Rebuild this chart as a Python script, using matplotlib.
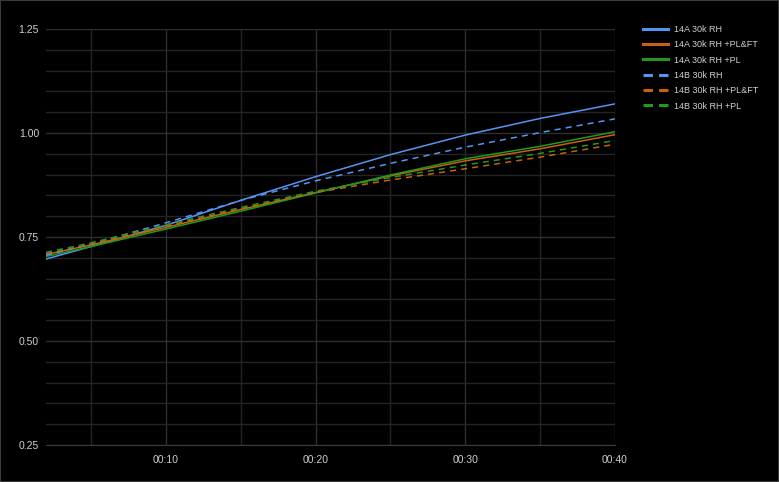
import matplotlib
matplotlib.use("Agg")
import matplotlib.pyplot as plt
from matplotlib.lines import Line2D
from matplotlib.ticker import MultipleLocator, FuncFormatter

# time in minutes
minutes = [2, 5, 10, 15, 20, 25, 30, 35, 40]

a_rh      = [0.697, 0.727, 0.778, 0.838, 0.895, 0.948, 0.995, 1.035, 1.070]
a_rh_plft = [0.708, 0.731, 0.773, 0.816, 0.857, 0.897, 0.933, 0.962, 0.996]
a_rh_pl   = [0.703, 0.727, 0.769, 0.812, 0.856, 0.899, 0.938, 0.968, 1.003]
b_rh      = [0.706, 0.733, 0.784, 0.838, 0.885, 0.927, 0.966, 1.001, 1.034]
b_rh_plft = [0.710, 0.733, 0.776, 0.818, 0.857, 0.887, 0.914, 0.942, 0.973]
b_rh_pl   = [0.713, 0.736, 0.779, 0.821, 0.860, 0.893, 0.923, 0.951, 0.982]

labels = ["14A 30k RH", "14A 30k RH +PL&FT", "14A 30k RH +PL",
          "14B 30k RH", "14B 30k RH +PL&FT", "14B 30k RH +PL"]

BLUE = "#5794F2"
ORANGE = "#C8600E"
GREEN = "#1F9A1F"

series = [
    (a_rh, BLUE, "-"), (a_rh_plft, ORANGE, "-"), (a_rh_pl, GREEN, "-"),
    (b_rh, BLUE, "--"), (b_rh_plft, ORANGE, "--"), (b_rh_pl, GREEN, "--"),
]

plt.rcParams['font.family'] = ['Liberation Sans', 'DejaVu Sans']

fig = plt.figure(figsize=(7.79, 4.82), dpi=100, facecolor="black")
ax = fig.add_axes([46/779, 37/482, (615-46)/779, (445-29)/482])
ax.set_facecolor("black")

for vals, col, ls in series:
    if ls == "--":
        ax.plot(minutes, vals, color=col, lw=1.1, ls=(0, (4, 3.3)))
    else:
        ax.plot(minutes, vals, color=col, lw=1.1)

ax.set_xlim(2, 40)
ax.set_ylim(0.25, 1.25)
ax.xaxis.set_major_locator(MultipleLocator(10))
ax.xaxis.set_minor_locator(MultipleLocator(5))
ax.yaxis.set_major_locator(MultipleLocator(0.25))
ax.yaxis.set_minor_locator(MultipleLocator(0.05))
ax.xaxis.set_major_formatter(FuncFormatter(lambda v, p: "00:%02d" % int(round(v))))
ax.yaxis.set_major_formatter(FuncFormatter(lambda v, p: "%.2f" % v))

ax.grid(which="major", color="#2e2e2e", lw=1)
ax.grid(which="minor", color="#242424", lw=1)
ax.set_axisbelow(True)
for s in ["top", "right", "left"]:
    ax.spines[s].set_visible(False)
ax.spines["bottom"].set_color("#3a3a3a")
ax.tick_params(which="both", length=0, colors="#cfcfcf", labelsize=7.5)
ax.tick_params(axis="x", pad=7)
ax.tick_params(axis="y", pad=5)

handles = []
for (vals, col, ls), lab in zip(series, labels):
    if ls == "--":
        handles.append(Line2D([], [], color=col, lw=2.2, ls=(0, (3.1, 2.0)), label=lab))
    else:
        handles.append(Line2D([], [], color=col, lw=2.2, label=lab))
leg = fig.legend(handles=handles, loc="upper left", bbox_to_anchor=(643/779, 1 - 25/482),
                 frameon=False, fontsize=6.5, labelcolor="#d0d0d0", handlelength=2.8,
                 handletextpad=0.67, labelspacing=0.70, borderaxespad=0, borderpad=0)

fig.patches.append(plt.Rectangle((0, 0), 1, 1, transform=fig.transFigure,
                                 fill=False, edgecolor="#3a3a3a", lw=1.5))

fig.savefig("out.png", dpi=100, facecolor="black")
